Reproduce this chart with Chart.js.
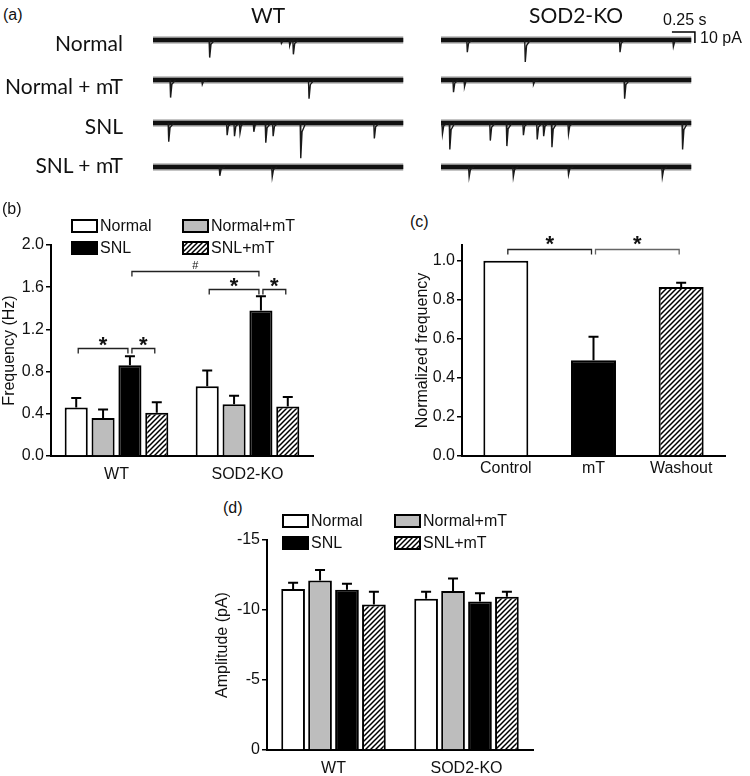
<!DOCTYPE html>
<html>
<head>
<meta charset="utf-8">
<script src="https://cdn.jsdelivr.net/npm/chart.js@4.4.1/dist/chart.umd.min.js"></script>
<style>
body { margin: 0; background: #fff; }
#fig { position: relative; width: 750px; height: 776px; overflow: hidden;
       font-family: Arial, 'Liberation Sans', sans-serif; color: #111; }
#fig canvas, #fig .t { position: absolute; }
.t { white-space: nowrap; line-height: 1; font-size: 16px; }
.ta { font-family: Lato, 'Open Sans', sans-serif; font-size: 21px; }
</style>
</head>
<body>
<div id="fig">
  <div class="t" style="left:3px;top:7px">(a)</div>
  <div class="t ta" style="left:268px;top:4px;transform:translateX(-50%)">WT</div>
  <div class="t ta" style="left:576px;top:4px;transform:translateX(-50%)">SOD2-KO</div>
  <div class="t ta" style="right:627px;top:32px">Normal</div>
  <div class="t ta" style="right:627px;top:75px">Normal + mT</div>
  <div class="t ta" style="right:627px;top:115px">SNL</div>
  <div class="t ta" style="right:627px;top:154px">SNL + mT</div>
  <div class="t" style="left:663px;top:12px">0.25 s</div>
  <div class="t" style="left:700px;top:30px">10 pA</div>
  <div class="t" style="left:2px;top:201px">(b)</div>
  <div class="t" style="left:410px;top:214px">(c)</div>
  <div class="t" style="left:223px;top:500px">(d)</div>

  <canvas id="chartB" width="330" height="290" style="left:0;top:200px"></canvas>
  <canvas id="chartC" width="370" height="290" style="left:380px;top:200px"></canvas>
  <canvas id="chartD" width="360" height="276" style="left:200px;top:500px"></canvas>
</div>
<script>
// ---------- datos ----------
// (a) registros: cada evento es [tiempo (s), amplitud (pA)]
const traceLength = 2.72;
const wtNormalEvents   = [[0.61, 16], [1.39, 3], [1.48, 5], [1.52, 13]];
const wtNormalMTEvents = [[0.185, 16], [0.53, 4], [1.69, 17]];
const wtSNLEvents      = [[0.165, 17], [0.80, 11], [0.88, 12], [0.94, 9], [1.09, 8], [1.22, 18], [1.30, 12], [1.60, 32], [2.40, 14]];
const wtSNLMTEvents    = [[0.72, 8], [1.29, 9]];
const koNormalEvents   = [[0.28, 11], [0.91, 20], [1.94, 11], [2.52, 6]];
const koNormalMTEvents = [[0.13, 11], [0.25, 6], [1.0, 4], [1.99, 17]];
const koSNLEvents      = [[0.01, 10], [0.09, 24], [0.53, 16], [0.71, 21], [0.89, 11], [1.04, 15], [1.11, 12], [1.20, 22], [1.38, 10], [2.62, 24]];
const koSNLMTEvents    = [[0.30, 9], [0.78, 9], [1.38, 7], [2.40, 9]];
const scaleBarTime = 0.25;    // s
const scaleBarCurrent = 10;   // pA

// (b) frecuencia (Hz)
const genotypes = ['WT', 'SOD2-KO'];
const groups = ['Normal', 'Normal+mT', 'SNL', 'SNL+mT'];
const freqNormal     = [0.46, 0.66];
const freqNormalSem  = [0.09, 0.15];
const freqNormalMT   = [0.36, 0.49];
const freqNormalMTSem = [0.08, 0.08];
const freqSNL        = [0.86, 1.38];
const freqSNLSem     = [0.085, 0.135];
const freqSNLMT      = [0.41, 0.47];
const freqSNLMTSem   = [0.10, 0.09];
// [dataset, categoria] -> [dataset, categoria], altura, marca
const sigB = [[0, 0, 2, 0, 1.02, '*'], [2, 0, 3, 0, 1.02, '*'], [2, 0, 2, 1, 1.75, '#'], [0, 1, 2, 1, 1.58, '*'], [2, 1, 3, 1, 1.58, '*']];

// (c) frecuencia normalizada
const treatments = ['Control', 'mT', 'Washout'];
const normFreq    = [1.0, 0.49, 0.865];
const normFreqSem = [0, 0.12, 0.022];
const sigC = [[0, 0, 0, 1, 1.06, '*'], [0, 1, 0, 2, 1.06, '*']];

// (d) amplitud (pA)
const ampNormal     = [-11.5, -10.8];
const ampNormalSem  = [0.45, 0.5];
const ampNormalMT   = [-12.1, -11.35];
const ampNormalMTSem = [0.75, 0.9];
const ampSNL        = [-11.45, -10.6];
const ampSNLSem     = [0.42, 0.6];
const ampSNLMT      = [-10.4, -10.95];
const ampSNLMTSem   = [0.9, 0.35];

// ---------- estilos ----------
const FONT = "Arial, 'Liberation Sans', sans-serif";
Chart.defaults.animation = false;
Chart.defaults.font.family = FONT;
Chart.defaults.font.size = 16;
Chart.defaults.color = '#111';

const hatch = (() => {
    const c = document.createElement('canvas');
    c.width = 5; c.height = 5;
    const g = c.getContext('2d');
    g.fillStyle = '#fff'; g.fillRect(0, 0, 5, 5);
    g.strokeStyle = '#000'; g.lineWidth = 1.5;
    g.beginPath();
    g.moveTo(-1, 6); g.lineTo(6, -1);
    g.moveTo(-1, 1); g.lineTo(1, -1);
    g.moveTo(4, 6); g.lineTo(6, 4);
    g.stroke();
    return g.createPattern(c, 'repeat');
})();
const groupFills = ['#fff', '#bdbdbd', '#000', hatch];

// barras de error, corchetes de significancia y leyenda
const barExtras = {
    id: 'barExtras',
    afterDraw(chart, args, opts) {
        const ctx = chart.ctx, y = chart.scales.y;
        ctx.save();
        ctx.strokeStyle = '#000';
        ctx.lineWidth = 2;
        chart.data.datasets.forEach((ds, i) => {
            chart.getDatasetMeta(i).data.forEach((bar, j) => {
                const sem = ds.sem[j];
                if (!sem) return;
                const v = ds.data[j];
                const top = y.getPixelForValue(v + Math.sign(v) * sem);
                ctx.beginPath();
                ctx.moveTo(bar.x, bar.y);
                ctx.lineTo(bar.x, top);
                ctx.moveTo(bar.x - 5, top);
                ctx.lineTo(bar.x + 5, top);
                ctx.stroke();
            });
        });

        ctx.lineWidth = 1.3;
        ctx.textAlign = 'center';
        ctx.textBaseline = 'alphabetic';
        (opts.brackets || []).forEach(([d1, c1, d2, c2, v, mark], k) => {
            const x1 = chart.getDatasetMeta(d1).data[c1].x + 2;
            const x2 = chart.getDatasetMeta(d2).data[c2].x - 2;
            const yy = Math.round(y.getPixelForValue(v)) + 0.5;
            ctx.strokeStyle = (opts.bracketColors && opts.bracketColors[k]) || '#222';
            ctx.beginPath();
            ctx.moveTo(x1, yy + 5); ctx.lineTo(x1, yy);
            ctx.lineTo(x2, yy); ctx.lineTo(x2, yy + 5);
            ctx.stroke();
            ctx.fillStyle = '#111';
            if (mark === '#') {
                ctx.font = '11px ' + FONT;
                ctx.fillText(mark, (x1 + x2) / 2, yy - 3);
            } else {
                ctx.font = 'bold 22px ' + FONT;
                ctx.fillText(mark, (x1 + x2) / 2, yy + (opts.starOffset || 3));
            }
        });

        ctx.textAlign = 'left';
        ctx.textBaseline = 'middle';
        ctx.font = '16px ' + FONT;
        ctx.lineWidth = 2;
        ctx.strokeStyle = '#000';
        (opts.legend || []).forEach(([bx, by], i) => {
            const ds = chart.data.datasets[i];
            ctx.fillStyle = ds.backgroundColor;
            ctx.fillRect(bx, by, 25, 12);
            ctx.strokeRect(bx, by, 25, 12);
            ctx.fillStyle = '#111';
            ctx.fillText(ds.label, bx + 28, by + 6.5);
        });
        ctx.restore();
    }
};

function yAxis(min, max, step, title, width, extra) {
    return Object.assign({
        min: min, max: max,
        afterFit: s => { s.width = width; },
        ticks: { stepSize: step, padding: 2, includeBounds: false, color: '#111', font: { family: FONT, size: 16 } },
        grid: { drawOnChartArea: false, tickLength: 5, color: '#000', lineWidth: 1.5 },
        border: { color: '#000', width: 2 },
        title: { display: true, text: title, color: '#111', padding: 0, font: { family: FONT, size: 16 } }
    }, extra || {});
}
function xAxis(height, pad) {
    return {
        afterFit: s => { s.height = height; },
        grid: { display: false, drawTicks: false },
        border: { display: true, color: '#000', width: 2 },
        ticks: { padding: pad, color: '#111', font: { family: FONT, size: 16 } }
    };
}
function barStyle(ds) {
    return Object.assign({ borderColor: '#000', borderWidth: 2 }, ds);
}
const oneDecimal = v => v.toFixed(1);

// ---------- (b) ----------
const freqMeans = [freqNormal, freqNormalMT, freqSNL, freqSNLMT];
const freqSems = [freqNormalSem, freqNormalMTSem, freqSNLSem, freqSNLMTSem];
const yB = yAxis(0, 2.0, 0.4, 'Frequency (Hz)', 51);
yB.ticks.callback = oneDecimal;
new Chart(document.getElementById('chartB'), {
    type: 'bar',
    data: {
        labels: genotypes,
        datasets: groups.map((g, i) => barStyle({
            label: g, data: freqMeans[i], sem: freqSems[i], backgroundColor: groupFills[i],
            categoryPercentage: 0.82, barPercentage: 0.86
        }))
    },
    options: {
        responsive: false,
        layout: { padding: { left: 0, right: 17, top: 45, bottom: 0 } },
        plugins: {
            legend: { display: false }, tooltip: { enabled: false },
            barExtras: { brackets: sigB, legend: [[72, 20], [183, 20], [72, 42], [183, 42]] }
        },
        scales: { x: xAxis(34, 9), y: yB }
    },
    plugins: [barExtras]
});

// ---------- (c) ----------
const yC = yAxis(0, 1.08, 0.2, 'Normalized frequency', 49);
yC.ticks.callback = oneDecimal;
new Chart(document.getElementById('chartC'), {
    type: 'bar',
    data: {
        labels: treatments,
        datasets: [barStyle({
            label: 'Normalized frequency', data: normFreq, sem: normFreqSem,
            backgroundColor: ['#fff', '#000', hatch],
            categoryPercentage: 0.57, barPercentage: 0.9
        })]
    },
    options: {
        responsive: false,
        layout: { padding: { left: 33, right: 25, top: 45, bottom: 0 } },
        plugins: {
            legend: { display: false }, tooltip: { enabled: false },
            barExtras: { brackets: sigC, bracketColors: ['#222', '#666'], starOffset: 1 }
        },
        scales: { x: xAxis(34, 3), y: yC }
    },
    plugins: [barExtras]
});

// ---------- (d) ----------
const ampMeans = [ampNormal, ampNormalMT, ampSNL, ampSNLMT];
const ampSems = [ampNormalSem, ampNormalMTSem, ampSNLSem, ampSNLMTSem];
new Chart(document.getElementById('chartD'), {
    type: 'bar',
    data: {
        labels: genotypes,
        datasets: groups.map((g, i) => barStyle({
            label: g, data: ampMeans[i], sem: ampSems[i], backgroundColor: groupFills[i],
            categoryPercentage: 0.81, barPercentage: 0.88
        }))
    },
    options: {
        responsive: false,
        layout: { padding: { left: 13, right: 27, top: 40, bottom: 0 } },
        plugins: {
            legend: { display: false }, tooltip: { enabled: false },
            barExtras: { legend: [[83, 15], [195, 15], [83, 37], [195, 37]] }
        },
        scales: {
            x: xAxis(26, 9),
            y: yAxis(-15, 0, 5, 'Amplitude (pA)', 54, { reverse: true })
        }
    },
    plugins: [barExtras]
});

// ---------- (a) registros ----------
const PX_PER_S = 92, PX_PER_PA = 1.1;
const rowBaselines = [40, 80, 123, 167];
const columns = [
    { left: 153, width: 252, rows: [wtNormalEvents, wtNormalMTEvents, wtSNLEvents, wtSNLMTEvents] },
    { left: 441, width: 262, rows: [koNormalEvents, koNormalMTEvents, koSNLEvents, koSNLMTEvents] }
];

function spikePoints(events) {
    const pts = [];
    events.forEach(([t, a]) => {
        pts.push({ x: t, y: 0 }, { x: t + 0.006, y: -a }, { x: t + 0.02, y: -a * 0.25 },
                 { x: t + 0.06, y: 0 }, { x: t + 0.07, y: null });
    });
    return pts;
}

const scaleBar = {
    id: 'scaleBar',
    afterDraw(chart) {
        const ctx = chart.ctx, sx = chart.scales.x, sy = chart.scales.y;
        const xEnd = sx.getPixelForValue(2.76), xStart = sx.getPixelForValue(2.76 - scaleBarTime);
        const yTop = sy.getPixelForValue(7.3), yBot = sy.getPixelForValue(7.3 - scaleBarCurrent);
        ctx.save();
        ctx.strokeStyle = '#000';
        ctx.lineWidth = 1.5;
        ctx.beginPath();
        ctx.moveTo(xStart, yTop); ctx.lineTo(xEnd, yTop); ctx.lineTo(xEnd, yBot);
        ctx.stroke();
        ctx.restore();
    }
};

const fig = document.getElementById('fig');
columns.forEach((col, ci) => {
    col.rows.forEach((events, ri) => {
        const cv = document.createElement('canvas');
        cv.width = col.width; cv.height = 48;
        cv.style.left = col.left + 'px';
        cv.style.top = (rowBaselines[ri] - 10) + 'px';
        fig.insertBefore(cv, fig.firstChild);
        const baseline = [{ x: 0, y: 0 }, { x: traceLength, y: 0 }];
        new Chart(cv, {
            type: 'scatter',
            data: {
                datasets: [
                    // banda de ruido: halo gris + núcleo oscuro
                    { data: baseline, showLine: true, borderColor: '#8c8c8c', borderWidth: 7, pointRadius: 0, order: 3 },
                    { data: baseline, showLine: true, borderColor: '#111', borderWidth: 4, pointRadius: 0, order: 2 },
                    { data: spikePoints(events), showLine: true, spanGaps: false,
                      borderColor: '#1a1a1a', borderWidth: 1.4, pointRadius: 0, order: 1 }
                ]
            },
            options: {
                responsive: false,
                layout: { padding: 0 },
                plugins: { legend: { display: false }, tooltip: { enabled: false } },
                scales: {
                    x: { display: false, min: 0, max: col.width / PX_PER_S },
                    y: { display: false, min: -38 / PX_PER_PA, max: 10 / PX_PER_PA }
                }
            },
            plugins: ci === 1 && ri === 0 ? [scaleBar] : []
        });
    });
});
</script>
</body>
</html>
